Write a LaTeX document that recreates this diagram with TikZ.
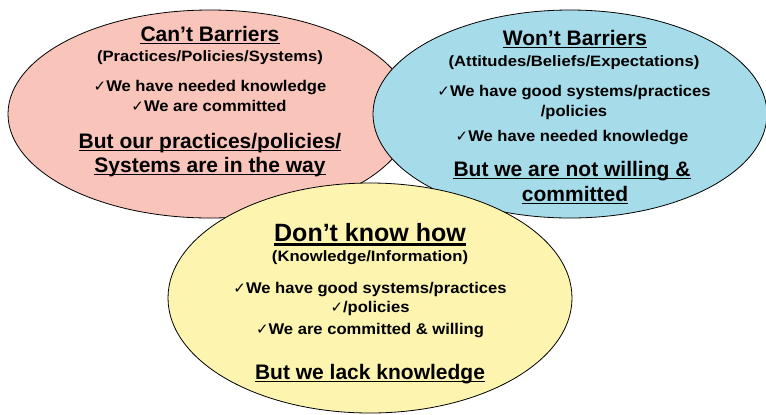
\documentclass[tikz,border=0pt]{standalone}
\usepackage{fontspec}
\setmainfont{Liberation Sans}
\newfontfamily\subfont[FakeStretch=1.11]{Liberation Sans}
\newfontfamily\linefont[FakeStretch=1.07]{Liberation Sans}
\newfontfamily\tickfont{DejaVu Sans}
\usetikzlibrary{shapes.geometric}
\newcommand\mytick{{\tickfont\mdseries\fontsize{15bp}{15bp}\selectfont ✓}}
\definecolor{pinkfill}{RGB}{249,196,185}
\definecolor{bluefill}{RGB}{166,220,233}
\definecolor{yellowfill}{RGB}{253,245,175}
\tikzset{
  bubble/.style={ellipse, draw=black, line width=0.8bp, inner sep=0},
  title/.style={anchor=base, inner sep=0, font=\fontsize{21bp}{24bp}\selectfont\bfseries},
  big/.style={anchor=base, inner sep=0, font=\fontsize{25bp}{28bp}\selectfont\bfseries},
  sub/.style={anchor=base, inner sep=0, font=\subfont\fontsize{15bp}{17bp}\selectfont\bfseries},
  item/.style={anchor=base, inner sep=0, font=\linefont\fontsize{15.5bp}{18bp}\selectfont\bfseries},
  ulline/.style={line width=1.7bp},
  bigul/.style={line width=2.3bp}
}
\begin{document}
\begin{tikzpicture}[x=1bp,y=-1bp]
\useasboundingbox (0,0) rectangle (766,414);
\node[bubble, fill=pinkfill, minimum width=404bp, minimum height=208bp] (cant) at (210,114) {};
\node[bubble, fill=bluefill, minimum width=394bp, minimum height=208bp] (wont) at (570,114) {};
\node[bubble, fill=yellowfill, minimum width=404bp, minimum height=230bp] (dont) at (370,298) {};
% Can't barriers
\node[title] (t1) at (210,41) {Can’t Barriers};
\node[sub] (s1) at (210,61) {(Practices/Policies/Systems)};
\node[item] (a1) at (210,91) {\mytick We have needed knowledge};
\node[item] (a2) at (209,111) {\mytick We are committed};
\node[title] (b1) at (210,148) {But our practices/policies/};
\node[title] (b2) at (210,172) {Systems are in the way};
% Won't barriers
\node[title] (t2) at (575,45) {Won’t Barriers};
\node[sub] (s2) at (574,66) {(Attitudes/Beliefs/Expectations)};
\node[item] (c1) at (574,96) {\mytick We have good systems/practices};
\node[item] (c2) at (574,116) {/policies};
\node[item] (c3) at (572,141) {\mytick We have needed knowledge};
\node[title] (d1) at (572,176) {But we are not willing \&};
\node[title] (d2) at (575,201) {committed};
% Don't know how
\node[big] (t3) at (370,241) {Don’t know how};
\node[sub] (s3) at (370,261) {(Knowledge/Information)};
\node[item] (e1) at (370,293) {\mytick We have good systems/practices};
\node[item] (e2) at (370,312) {\mytick/policies};
\node[item] (e3) at (370,334) {\mytick We are committed \& willing};
\node[title] (f1) at (370,379) {But we lack knowledge};
% underlines
\foreach \n in {t1,b1,b2,t2,d1,d2,f1}
  \draw[ulline] ([yshift=-2.4bp]\n.base west) -- ([yshift=-2.4bp]\n.base east);
\draw[bigul] ([yshift=-3.4bp]t3.base west) -- ([yshift=-3.4bp]t3.base east);
\end{tikzpicture}
\end{document}
